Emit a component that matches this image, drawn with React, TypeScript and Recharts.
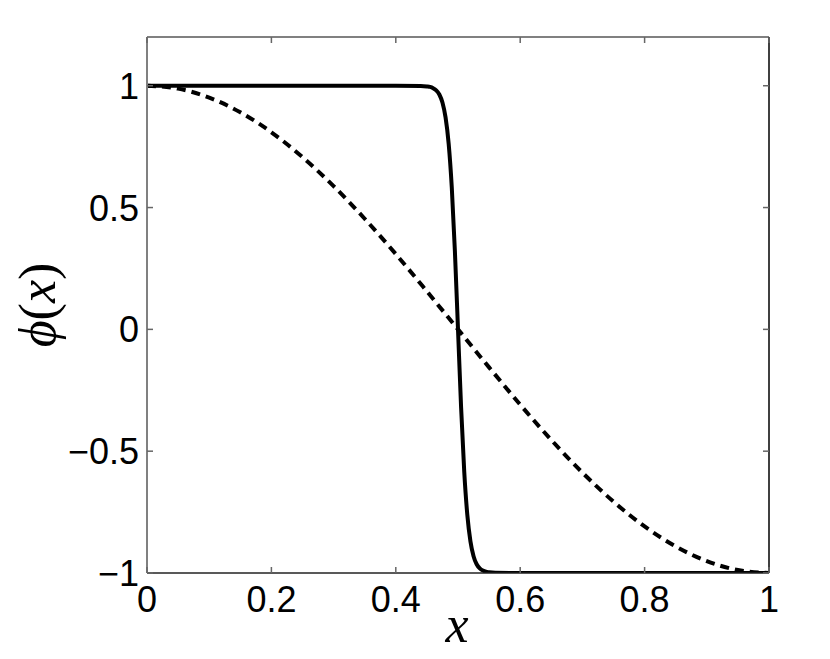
import { LineChart, Line, XAxis, YAxis, ReferenceLine } from 'recharts'

const CHART_W = 830
const CHART_H = 659
const MARGIN = { top: 37, right: 61, bottom: 46, left: 87 }
const Y_AXIS_W = 60
const X_AXIS_H = 40
const PLOT_LEFT = MARGIN.left + Y_AXIS_W
const PLOT_RIGHT = CHART_W - MARGIN.right
const PLOT_TOP = MARGIN.top
const PLOT_BOTTOM = CHART_H - MARGIN.bottom - X_AXIS_H
const TICK_LEN = 6

const xTicks = [0, 0.2, 0.4, 0.6, 0.8, 1]
const yTicks = [-1, -0.5, 0, 0.5, 1]

// dashed curve, read at steps of 0.05
const smoothX = [0, 0.05, 0.1, 0.15, 0.2, 0.25, 0.3, 0.35, 0.4, 0.45, 0.5, 0.55, 0.6, 0.65, 0.7, 0.75, 0.8, 0.85, 0.9, 0.95, 1]
const smoothY = [1, 0.988, 0.951, 0.891, 0.809, 0.707, 0.588, 0.454, 0.309, 0.156, 0, -0.156, -0.309, -0.454, -0.588, -0.707, -0.809, -0.891, -0.951, -0.988, -1]

// solid curve, sharp front near x = 0.5
const sharpX = [0, 0.1, 0.2, 0.3, 0.4, 0.44, 0.45, 0.455, 0.46, 0.465, 0.47, 0.475, 0.48, 0.485, 0.49, 0.495, 0.5, 0.505, 0.51, 0.515, 0.52, 0.525, 0.53, 0.535, 0.54, 0.545, 0.55, 0.56, 0.6, 0.7, 0.8, 0.9, 1]
const sharpY = [1, 1, 1, 1, 1, 0.999, 0.997, 0.995, 0.99, 0.981, 0.964, 0.931, 0.87, 0.762, 0.583, 0.321, 0, -0.321, -0.583, -0.762, -0.87, -0.931, -0.964, -0.981, -0.99, -0.995, -0.997, -0.999, -1, -1, -1, -1, -1]

const smoothData = smoothX.map((x, i) => ({ x, y: smoothY[i] }))
const sharpData = sharpX.map((x, i) => ({ x, y: sharpY[i] }))

const fmt = (v: number) => (v < 0 ? '\u2212' + Math.abs(v) : String(v))

const TICK_FONT = { fontFamily: '"Liberation Sans", Arial, sans-serif', fontSize: 36, fill: '#000' }

function YTick(props: any) {
  const { x, y, payload } = props
  return (
    <g>
      <line x1={PLOT_LEFT} x2={PLOT_LEFT + TICK_LEN} y1={y} y2={y} stroke="#666" strokeWidth={1.5} />
      <line x1={PLOT_RIGHT - TICK_LEN} x2={PLOT_RIGHT} y1={y} y2={y} stroke="#666" strokeWidth={1.5} />
      <text x={x} y={y} dy="0.36em" textAnchor="end" {...TICK_FONT}>
        {fmt(payload.value)}
      </text>
    </g>
  )
}

function XTick(props: any) {
  const { x, y, payload } = props
  return (
    <g>
      <line x1={x} x2={x} y1={PLOT_BOTTOM} y2={PLOT_BOTTOM - TICK_LEN} stroke="#666" strokeWidth={1.5} />
      <line x1={x} x2={x} y1={PLOT_TOP} y2={PLOT_TOP + TICK_LEN} stroke="#666" strokeWidth={1.5} />
      <text x={x} y={y} dy="0.72em" textAnchor="middle" {...TICK_FONT}>
        {fmt(payload.value)}
      </text>
    </g>
  )
}

const LABEL_FONT = { fontFamily: '"Liberation Serif", "Times New Roman", serif', fontSize: 52, fill: '#000' }

function YLabel() {
  return (
    <text x={37} y={305} transform="rotate(-90 37 305)" textAnchor="middle" dominantBaseline="central" {...LABEL_FONT}>
      <tspan fontStyle="italic">ϕ</tspan>
      <tspan>(</tspan>
      <tspan fontStyle="italic">x</tspan>
      <tspan>)</tspan>
    </text>
  )
}

function XLabel() {
  return (
    <text x={457} y={642} textAnchor="middle" fontStyle="italic" {...LABEL_FONT}>
      x
    </text>
  )
}

export default function App() {
  return (
    <div style={{ position: 'absolute', left: 0, top: 0, width: CHART_W, height: CHART_H, background: '#fff' }}>
      <LineChart width={CHART_W} height={CHART_H} margin={MARGIN}>
        <XAxis
          type="number"
          dataKey="x"
          domain={[0, 1]}
          ticks={xTicks}
          tick={<XTick />}
          tickSize={0}
          tickMargin={13}
          height={X_AXIS_H}
          axisLine={{ stroke: '#222', strokeWidth: 1.5 }}
          allowDataOverflow
          label={<XLabel />}
        />
        <YAxis
          type="number"
          dataKey="y"
          domain={[-1, 1.2]}
          ticks={yTicks}
          tick={<YTick />}
          tickSize={0}
          tickMargin={8}
          width={Y_AXIS_W}
          axisLine={{ stroke: '#808080', strokeWidth: 2 }}
          allowDataOverflow
          label={<YLabel />}
        />
        <ReferenceLine y={1.2} stroke="#808080" strokeWidth={2} />
        <ReferenceLine x={1} stroke="#000" strokeWidth={1.5} />
        <Line
          data={smoothData}
          dataKey="y"
          type="monotone"
          stroke="#000"
          strokeWidth={4}
          strokeDasharray="9 6"
          dot={false}
          activeDot={false}
          isAnimationActive={false}
        />
        <Line
          data={sharpData}
          dataKey="y"
          type="monotone"
          stroke="#000"
          strokeWidth={4}
          dot={false}
          activeDot={false}
          isAnimationActive={false}
        />
      </LineChart>
    </div>
  )
}
